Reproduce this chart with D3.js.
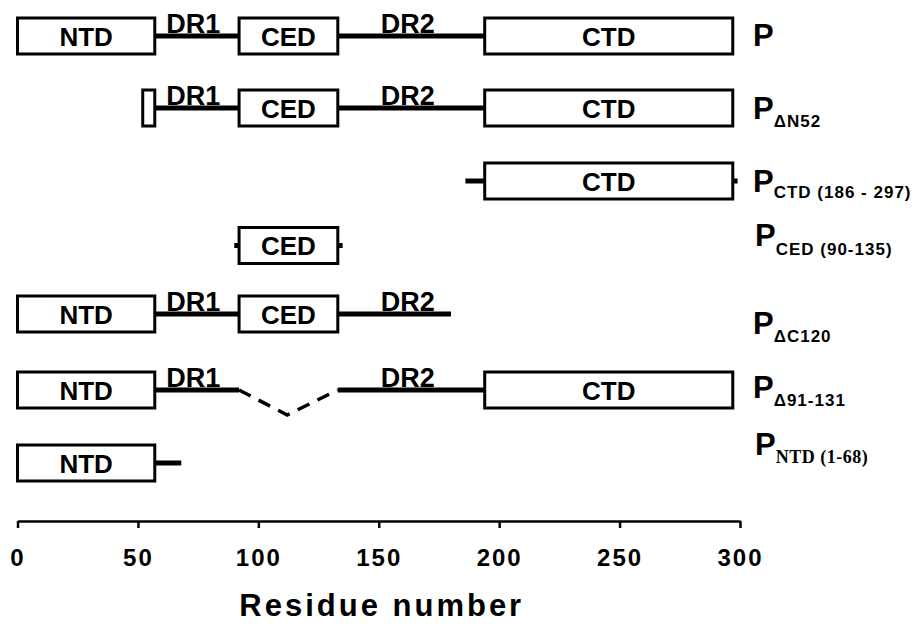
<!DOCTYPE html>
<html>
<head>
<meta charset="utf-8">
<script src="https://cdn.jsdelivr.net/npm/d3@7"></script>
<style>
  body { margin: 0; background: #fff; }
  svg { display: block; font-family: "Liberation Sans", Arial, sans-serif; font-weight: bold; }
</style>
</head>
<body>
<svg width="915" height="628"></svg>
<script>
// constructs, top to bottom (subscript of the P label)
var constructs = ["", "ΔN52", "CTD (186 - 297)", "CED (90-135)", "ΔC120", "Δ91-131", "NTD (1-68)"];

// domain boxes: construct, label, start residue, end residue
var boxes = [
    ["", "NTD", 0, 57], ["", "CED", 92, 133], ["", "CTD", 194, 297],
    ["ΔN52", "", 52, 57], ["ΔN52", "CED", 92, 133], ["ΔN52", "CTD", 194, 297],
    ["CTD (186 - 297)", "CTD", 194, 297],
    ["CED (90-135)", "CED", 92, 133],
    ["ΔC120", "NTD", 0, 57], ["ΔC120", "CED", 92, 133],
    ["Δ91-131", "NTD", 0, 57], ["Δ91-131", "CTD", 194, 297],
    ["NTD (1-68)", "NTD", 0, 57]
];

// linker regions (solid lines): construct, start, end
var linkers = [
    ["", 57, 92], ["", 133, 194],
    ["ΔN52", 57, 92], ["ΔN52", 133, 194],
    ["CTD (186 - 297)", 186, 194], ["CTD (186 - 297)", 297, 299],
    ["CED (90-135)", 90, 92], ["CED (90-135)", 133, 135],
    ["ΔC120", 57, 92], ["ΔC120", 133, 180],
    ["Δ91-131", 57, 92], ["Δ91-131", 133, 194],
    ["NTD (1-68)", 57, 68]
];

// deleted region (dashed V): construct, start, dip, end
var deletions = [["Δ91-131", 92, 112, 133]];

// disordered region labels: construct, label, residue
var drLabels = [
    ["", "DR1", 73], ["", "DR2", 162],
    ["ΔN52", "DR1", 73], ["ΔN52", "DR2", 162],
    ["ΔC120", "DR1", 73], ["ΔC120", "DR2", 162],
    ["Δ91-131", "DR1", 73], ["Δ91-131", "DR2", 162]
];

var xTicks = [0, 50, 100, 150, 200, 250, 300];

var svg = d3.select("svg");

var x = d3.scaleLinear().domain([0, 300]).range([17.5, 740]);
var y = d3.scaleOrdinal().domain(constructs).range([36, 108, 181, 245.5, 314, 390, 463]);
// baseline of the right-hand "P" labels
var labelY = d3.scaleOrdinal().domain(constructs).range([46, 119, 192, 246, 334, 398, 455]);
var labelX = d3.scaleOrdinal().domain(constructs).range([753, 753, 753, 755, 753, 753, 755]);

var boxH = 36;

// linkers
svg.append("g").selectAll("line")
    .data(linkers)
    .join("line")
    .attr("x1", d => x(d[1]))
    .attr("x2", d => x(d[2]))
    .attr("y1", d => y(d[0]))
    .attr("y2", d => y(d[0]))
    .attr("stroke", "#000")
    .attr("stroke-width", 5);

// deleted region
svg.append("g").selectAll("path")
    .data(deletions)
    .join("path")
    .attr("d", d => d3.line()([[x(d[1]), y(d[0])], [x(d[2]), y(d[0]) + 25], [x(d[3]), y(d[0])]]))
    .attr("fill", "none")
    .attr("stroke", "#000")
    .attr("stroke-width", 3.5)
    .attr("stroke-dasharray", "13,9");

// boxes
var bx = svg.append("g").selectAll("g")
    .data(boxes)
    .join("g");
bx.append("rect")
    .attr("x", d => x(d[2]))
    .attr("y", d => y(d[0]) - boxH / 2)
    .attr("width", d => x(d[3]) - x(d[2]))
    .attr("height", boxH)
    .attr("fill", "#fff")
    .attr("stroke", "#000")
    .attr("stroke-width", 3);
bx.append("text")
    .attr("x", d => x((d[2] + d[3]) / 2))
    .attr("y", d => y(d[0]) + 9.5)
    .attr("text-anchor", "middle")
    .attr("font-size", 26)
    .text(d => d[1]);

// DR labels sit on top of the linker
svg.append("g").selectAll("text")
    .data(drLabels)
    .join("text")
    .attr("x", d => x(d[2]))
    .attr("y", d => y(d[0]) - 3)
    .attr("text-anchor", "middle")
    .attr("font-size", 27)
    .text(d => d[1]);

// construct names on the right
var lab = svg.append("g").selectAll("text")
    .data(constructs)
    .join("text")
    .attr("x", d => labelX(d))
    .attr("y", d => labelY(d));
lab.append("tspan")
    .attr("font-size", 31)
    .text("P");
lab.append("tspan")
    .attr("dy", (d, i) => i == 2 ? 6 : i == 3 ? 9 : 8)
    .attr("font-size", (d, i) => i == 6 ? 18 : 17)
    .attr("font-family", (d, i) => i == 6 ? "'Liberation Serif', 'Times New Roman', serif" : null)
    .attr("letter-spacing", (d, i) => i == 6 ? 0.5 : 1)
    .text(d => d);

// axis
var axis = svg.append("g")
    .attr("transform", "translate(0,521)")
    .call(d3.axisBottom(x).tickValues(xTicks).tickSize(7).tickSizeOuter(0).tickPadding(21));
axis.select(".domain").attr("stroke-width", 2.5);
axis.selectAll(".tick line").attr("stroke-width", 2.5);
axis.selectAll(".tick text")
    .attr("font-size", 24)
    .attr("font-family", "'Liberation Sans', Arial, sans-serif")
    .attr("font-weight", "bold")
    .attr("letter-spacing", 2);

svg.append("text")
    .attr("x", x(150) + 3)
    .attr("y", 616)
    .attr("text-anchor", "middle")
    .attr("font-size", 31)
    .attr("letter-spacing", 3)
    .text("Residue number");
</script>
</body>
</html>
